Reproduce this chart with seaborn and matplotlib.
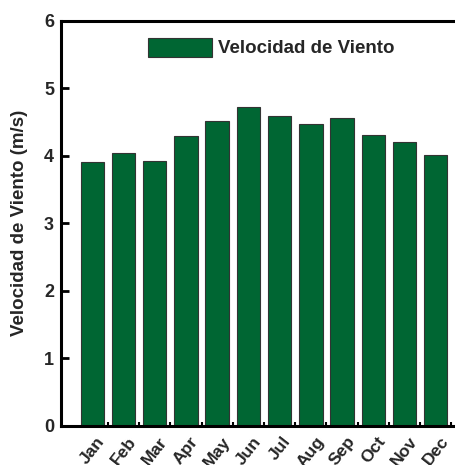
import matplotlib
matplotlib.use("Agg")
import matplotlib.pyplot as plt
import seaborn as sns
import pandas as pd
from matplotlib.ticker import FixedLocator

months = ["Jan", "Feb", "Mar", "Apr", "May", "Jun", "Jul", "Aug", "Sep", "Oct", "Nov", "Dec"]
speed = [3.91, 4.04, 3.93, 4.29, 4.52, 4.73, 4.59, 4.48, 4.56, 4.31, 4.21, 4.01]
series_label = "Velocidad de Viento"
y_label = "Velocidad de Viento (m/s)"
y_ticks = [0, 1, 2, 3, 4, 5, 6]

sns.set_style("white")
plt.rcParams["font.family"] = ["Liberation Sans", "DejaVu Sans"]
plt.rcParams["font.weight"] = "bold"

df = pd.DataFrame({"month": months, "speed": speed})

fig = plt.figure(figsize=(4.56, 4.65), dpi=100)
ax = fig.add_axes([61 / 456, 1 - 425.7 / 465, 406 / 456, 404.7 / 465])

sns.barplot(data=df, x="month", y="speed", color="#006633", saturation=1,
            width=0.75, edgecolor="#333333", linewidth=0.8, label=series_label, ax=ax)

ax.set_xlim(-1, 12)
ax.set_ylim(0, 6)
ax.set_yticks(y_ticks)
ax.set_yticklabels([str(t) for t in y_ticks], fontsize=13, fontweight="bold")
ax.set_xlabel("")
ax.set_ylabel(y_label, fontsize=13.5, fontweight="bold")
ax.yaxis.set_label_coords(-0.082, 0.5)

for lbl in ax.get_xticklabels():
    lbl.set_rotation(52)
    lbl.set_fontsize(12.5)
    lbl.set_fontweight("bold")
    lbl.set_ha("center")

ax.xaxis.set_minor_locator(FixedLocator([i + 0.5 for i in range(12)]))
ax.tick_params(axis="x", which="major", length=0, pad=6)
ax.tick_params(axis="x", which="minor", direction="in", length=3, width=1.5, bottom=True, color="black")
ax.tick_params(axis="y", which="major", direction="in", length=6, width=2, left=True, color="black", pad=5)

for side in ["left", "top", "bottom", "right"]:
    ax.spines[side].set_linewidth(2.2)
    ax.spines[side].set_color("black")

leg = ax.legend(loc="upper left", bbox_to_anchor=(0.2135, 0.9587), borderaxespad=0,
                borderpad=0, frameon=False, handlelength=3.41, handleheight=1.17,
                handletextpad=0.32, prop={"size": 13.5, "weight": "bold"})

fig.savefig("out.png", dpi=100)
